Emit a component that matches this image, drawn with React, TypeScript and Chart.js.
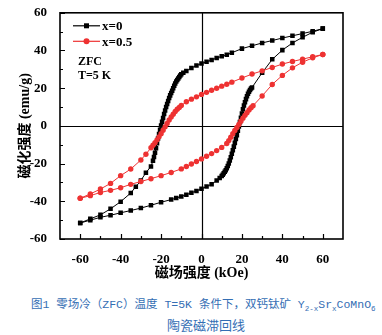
import React, { useEffect, useRef } from "react";
import { Chart, registerables } from "chart.js";

Chart.register(...registerables);

// ---------- data ----------
const seriesLabels = ["x=0", "x=0.5"];
const xTicks = [-60, -40, -20, 0, 20, 40, 60];
const yTicks = [-60, -40, -20, 0, 20, 40, 60];
const xMinorTicks = [-50, -30, -10, 10, 30, 50];
const yMinorTicks = [-50, -30, -10, 10, 30, 50];

// x=0, field decreasing branch
const blackDownH = [60, 55, 50, 45, 40, 35, 30, 25, 20, 15, 12.5, 10, 7.5, 5, 2.5, 0, -2.5, -5, -7.5, -9, -10, -10.5, -11, -11.5, -12, -12.5, -13, -13.5, -14, -14.5, -15, -15.5, -16, -16.5, -17, -17.5, -18, -18.5, -19, -19.5, -20, -20.5, -21, -21.5, -22, -22.5, -23, -23.5, -24, -25, -27.5, -30, -32.5, -35, -40, -45, -50, -55, -60];
const blackDownM = [51.6, 50.2, 49, 47.8, 46.6, 45.3, 44, 42.5, 41, 38.8, 37.8, 36.9, 36, 35, 34, 33.1, 32, 30.7, 29.1, 28.2, 27.4, 26.7, 26, 25.2, 24.4, 23.5, 22.5, 21.3, 20, 18.7, 17.4, 16.2, 14.8, 13.2, 11.6, 10, 8.2, 6.3, 4.2, 2.2, 0.2, -2, -4.3, -6.7, -9.2, -11.8, -14.3, -16.5, -18.5, -21.5, -24.8, -29, -32.3, -35.6, -40.2, -44, -47.2, -49.3, -51.5];
// x=0, field increasing branch
const blackUpH = [-60, -55, -50, -45, -40, -35, -30, -25, -20, -15, -12.5, -10, -7.5, -5, -2.5, 0, 2.5, 5, 7.5, 9, 10, 10.5, 11, 11.5, 12, 12.5, 13, 13.5, 14, 14.5, 15, 15.5, 16, 16.5, 17, 17.5, 18, 18.5, 19, 19.5, 20, 20.5, 21, 21.5, 22, 22.5, 23, 23.5, 24, 24.5, 25, 30, 35, 40, 45, 50, 55, 60];
const blackUpM = [-51.5, -50, -48.5, -47.4, -46.1, -44.9, -43.6, -42.1, -40.5, -39.1, -38.3, -37.4, -36.5, -35.5, -34.5, -33.4, -32.2, -30.9, -29, -27.6, -26.6, -25.9, -25.1, -24.3, -23.5, -22.5, -21.3, -19.9, -18.3, -16.6, -14.8, -12.9, -11, -9, -7, -4.9, -2.6, -0.3, 2, 4.3, 6.6, 8.8, 10.8, 12.6, 14.2, 15.7, 17, 18.1, 19.1, 19.8, 20.4, 28.2, 35.3, 40.2, 44, 47, 49.7, 51.6];

// x=0.5, field decreasing branch
const redDownH = [60, 55, 50, 45, 40, 35, 30, 25, 20, 15, 12.5, 10, 7.5, 5, 2.5, 0, -2.5, -5, -7.5, -10, -11, -12, -13, -14, -15, -16, -17, -18, -19, -20, -21, -22, -23, -24, -25, -27.5, -30, -35, -40, -45, -50, -55, -60];
const redDownM = [37.9, 36.7, 35.4, 34.2, 32.8, 31, 29.2, 27.5, 25.4, 23.2, 22.1, 21.1, 20, 18.9, 17.8, 16.7, 15.4, 14.2, 12.8, 10.8, 9.8, 8.8, 7.6, 6.2, 4.7, 3.1, 1.3, -0.5, -2.3, -4.1, -5.8, -7.4, -8.9, -10.3, -11.6, -15, -18.1, -22.9, -26.4, -30.5, -33.5, -36.1, -38.4];
// x=0.5, field increasing branch
const redUpH = [-60, -55, -50, -45, -40, -35, -30, -25, -20, -15, -10, -7.5, -5, -2.5, 0, 2.5, 5, 7.5, 10, 12.5, 13.5, 14.5, 15.5, 16.5, 17.5, 18.5, 19.5, 20.5, 21.5, 22.5, 23.5, 24.5, 25.5, 30, 35, 40, 45, 50, 55, 60];
const redUpM = [-38.4, -37, -35.3, -34.2, -32.8, -31, -29.5, -28, -26.4, -24.7, -22.8, -21.5, -20.2, -18.9, -17.5, -16.1, -14.7, -13.1, -11.4, -9.3, -7.8, -6, -4.2, -2.4, -0.8, 0.8, 2.5, 4.1, 5.6, 7, 8.4, 9.6, 10.7, 15.9, 22, 26.8, 30.8, 33.8, 36.1, 37.9];

const annotationLines = ["ZFC", "T=5 K"];
const xTitle = "磁场强度 (kOe)";
const yTitle = "磁化强度 (emu/g)";

// ---------- styles ----------
const BLACK = "#000000";
const RED = "rgb(238,50,50)";
const SERIF = "'Liberation Serif', 'Times New Roman', 'Noto Sans CJK SC', serif";

function toPoints(hs: number[], ms: number[]) {
  return hs.map((h, i) => ({ x: h, y: ms[i] }));
}

const framePlugin = {
  id: "frameDecor",
  beforeDatasetsDraw(chart: any) {
    const { ctx, chartArea: a, scales } = chart;
    const x0 = Math.round(scales.x.getPixelForValue(0)) + 0.5;
    const y0 = Math.round(scales.y.getPixelForValue(0)) + 0.5;
    ctx.save();
    ctx.strokeStyle = "#000";
    ctx.lineWidth = 1.2;
    ctx.beginPath();
    ctx.moveTo(x0, a.top);
    ctx.lineTo(x0, a.bottom);
    ctx.moveTo(a.left, y0);
    ctx.lineTo(a.right, y0);
    ctx.stroke();
    ctx.restore();
  },
  afterDatasetsDraw(chart: any) {
    const { ctx, chartArea: a, scales } = chart;
    ctx.save();
    // frame
    ctx.strokeStyle = "#000";
    ctx.lineWidth = 1.6;
    ctx.strokeRect(a.left, a.top, a.right - a.left, a.bottom - a.top);
    // ticks (inward)
    ctx.lineWidth = 1.2;
    ctx.beginPath();
    xTicks.forEach((v) => {
      const px = Math.round(scales.x.getPixelForValue(v)) + 0.5;
      ctx.moveTo(px, a.bottom);
      ctx.lineTo(px, a.bottom - 5);
    });
    xMinorTicks.forEach((v) => {
      const px = Math.round(scales.x.getPixelForValue(v)) + 0.5;
      ctx.moveTo(px, a.bottom);
      ctx.lineTo(px, a.bottom - 3);
    });
    yTicks.forEach((v) => {
      const py = Math.round(scales.y.getPixelForValue(v)) + 0.5;
      ctx.moveTo(a.left, py);
      ctx.lineTo(a.left + 5, py);
    });
    yMinorTicks.forEach((v) => {
      const py = Math.round(scales.y.getPixelForValue(v)) + 0.5;
      ctx.moveTo(a.left, py);
      ctx.lineTo(a.left + 3, py);
    });
    ctx.stroke();

    // legend
    chart.data.datasets.forEach((ds: any, i: number) => {
      const ly = a.top + 13 + i * 15.5;
      const lx0 = a.left + 13;
      const lx1 = a.left + 40;
      ctx.strokeStyle = ds.borderColor;
      ctx.lineWidth = 1.2;
      ctx.beginPath();
      ctx.moveTo(lx0, ly);
      ctx.lineTo(lx1, ly);
      ctx.stroke();
      ctx.fillStyle = ds.pointBackgroundColor;
      const cx = (lx0 + lx1) / 2;
      if (ds.pointStyle === "rect") {
        ctx.fillRect(cx - 2.5, ly - 2.5, 5, 5);
      } else {
        ctx.beginPath();
        ctx.arc(cx, ly, 3, 0, Math.PI * 2);
        ctx.fill();
      }
      ctx.fillStyle = "#000";
      ctx.font = `bold 13px ${SERIF}`;
      ctx.textBaseline = "middle";
      ctx.textAlign = "left";
      ctx.fillText(ds.label, lx1 + 2, ly + 1);
    });

    // annotation text
    ctx.fillStyle = "#000";
    ctx.font = `bold 12px ${SERIF}`;
    ctx.textBaseline = "middle";
    ctx.textAlign = "left";
    annotationLines.forEach((t, i) => {
      ctx.fillText(t, a.left + 18, a.top + 49 + i * 14);
    });
    ctx.restore();
  },
};

export default function App() {
  const canvasRef = useRef<HTMLCanvasElement | null>(null);

  useEffect(() => {
    const canvas = canvasRef.current;
    if (!canvas) return;
    const chart = new Chart(canvas, {
      type: "scatter",
      data: {
        datasets: [
          {
            label: seriesLabels[0],
            data: [...toPoints(blackDownH, blackDownM), ...toPoints(blackUpH, blackUpM)],
            showLine: true,
            borderColor: BLACK,
            backgroundColor: BLACK,
            pointBackgroundColor: BLACK,
            pointBorderColor: BLACK,
            borderWidth: 1,
            pointStyle: "rect",
            pointRadius: 3.2,
            pointBorderWidth: 0,
            order: 2,
          },
          {
            label: seriesLabels[1],
            data: [...toPoints(redDownH, redDownM), ...toPoints(redUpH, redUpM)],
            showLine: true,
            borderColor: RED,
            backgroundColor: RED,
            pointBackgroundColor: RED,
            pointBorderColor: RED,
            borderWidth: 1,
            pointStyle: "circle",
            pointRadius: 2.7,
            pointBorderWidth: 0,
            order: 1,
          },
        ] as any,
      },
      options: {
        animation: false,
        responsive: false,
        maintainAspectRatio: false,
        layout: { padding: { left: 0, right: 39, top: 12, bottom: 0 } },
        plugins: {
          legend: { display: false },
          tooltip: { enabled: false },
        },
        scales: {
          x: {
            type: "linear",
            min: -70,
            max: 70,
            grid: { display: false },
            border: { display: false },
            afterBuildTicks: (axis: any) => {
              axis.ticks = xTicks.map((v) => ({ value: v }));
            },
            afterFit: (scale: any) => {
              scale.height = 46;
            },
            ticks: {
              color: "#000",
              padding: 5,
              maxRotation: 0,
              autoSkip: false,
              font: { family: SERIF, size: 13, weight: "bold" },
            },
            title: {
              display: true,
              text: xTitle,
              color: "#000",
              padding: { top: 0, bottom: 3 },
              font: { family: SERIF, size: 14, weight: "bold" },
            },
          },
          y: {
            type: "linear",
            min: -60,
            max: 60,
            grid: { display: false },
            border: { display: false },
            afterBuildTicks: (axis: any) => {
              axis.ticks = yTicks.map((v) => ({ value: v }));
            },
            afterFit: (scale: any) => {
              scale.width = 60;
            },
            ticks: {
              color: "#000",
              padding: 5,
              autoSkip: false,
              font: { family: SERIF, size: 13, weight: "bold" },
            },
            title: {
              display: true,
              text: yTitle,
              color: "#000",
              padding: { top: 17, bottom: 0 },
              font: { family: SERIF, size: 14, weight: "bold" },
            },
          },
        },
      } as any,
      plugins: [framePlugin],
    });
    return () => chart.destroy();
  }, []);

  const captionBase: React.CSSProperties = {
    position: "absolute",
    color: "rgb(52,110,180)",
    fontFamily: "'Liberation Mono', 'Noto Sans CJK SC', monospace",
    fontSize: 11.5,
    lineHeight: "20px",
    whiteSpace: "nowrap",
  };

  return (
    <div style={{ position: "absolute", left: 0, top: 0, width: 382, height: 335, background: "#fff", overflow: "hidden" }}>
      <canvas ref={canvasRef} width={382} height={285} style={{ display: "block", width: 382, height: 285 }} />
      <div style={{ ...captionBase, left: 31, top: 295, width: 351 }}>
        图1 零场冷（ZFC）温度 T=5K 条件下，双钙钛矿 Y<sub style={{ fontSize: 7.5 }}>2-x</sub>Sr<sub style={{ fontSize: 7.5 }}>x</sub>CoMnO<sub style={{ fontSize: 7.5 }}>6</sub>
      </div>
      <div style={{ ...captionBase, left: 167, top: 317, fontSize: 13 }}>陶瓷磁滞回线</div>
    </div>
  );
}
